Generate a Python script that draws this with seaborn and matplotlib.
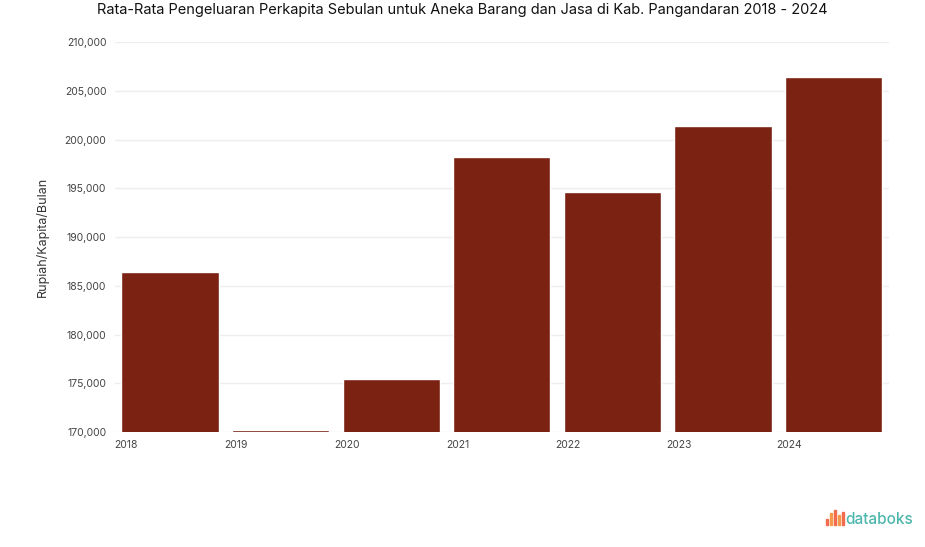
import numpy as np
import pandas as pd
import seaborn as sns
import matplotlib.pyplot as plt
from matplotlib.patches import Rectangle

# dati
tahun = ['2018', '2019', '2020', '2021', '2022', '2023', '2024']
pengeluaran = [186400, 170250, 175500, 198200, 194600, 201400, 206400]
y_ticks = [170000, 175000, 180000, 185000, 190000, 195000, 200000, 205000, 210000]

df = pd.DataFrame({'tahun': tahun, 'pengeluaran': pengeluaran})

sns.set_theme(style="white")
plt.rcParams['font.family'] = ['Inter', 'DejaVu Sans']

fig = plt.figure(figsize=(9.25, 5.47), dpi=100)
ax = fig.add_axes([0.124, 0.210, 0.837, 0.713])

sns.barplot(data=df, x='tahun', y='pengeluaran', color='#7B2213',
            width=0.88, saturation=1, ax=ax, zorder=2)

ax.set_ylim(170000, 210000)
ax.set_yticks(y_ticks)
ax.set_yticklabels([f"{v:,}" for v in y_ticks], fontsize=7.5, color='#444444')
ax.yaxis.grid(True, color='#eeeeee', linewidth=1, zorder=0)
ax.set_axisbelow(True)

# etichette anno vicino al bordo sinistro della barra
ax.set_xticks(np.arange(len(tahun)) - 0.4)
ax.set_xticklabels(tahun, fontsize=7.5, color='#444444')
ax.set_xlim(-0.5, len(tahun) - 0.5)
ax.tick_params(axis='both', length=0, pad=6)

ax.set_xlabel('')
ax.set_ylabel('Rupiah/Kapita/Bulan', fontsize=9, color='#333333', labelpad=11)
for s in ax.spines.values():
    s.set_visible(False)

fig.text(0.5, 0.982, 'Rata-Rata Pengeluaran Perkapita Sebulan untuk Aneka Barang dan Jasa di Kab. Pangandaran 2018 - 2024',
         ha='center', va='center', fontsize=10.5, color='#111111')

# logo databoks
cols = ['#F26B4F', '#F59A4A', '#F26B4F', '#F59A4A', '#F26B4F']
hs = [0.012, 0.022, 0.028, 0.018, 0.024]
for i, (c, h) in enumerate(zip(cols, hs)):
    fig.patches.append(Rectangle((0.893 + i * 0.0042, 0.040), 0.0022, h,
                                 transform=fig.transFigure, color=c))
fig.text(0.914, 0.051, 'databoks', ha='left', va='center', fontsize=11,
         color='#4DB6AC', fontweight='medium')

fig.savefig('out.png', dpi=100)
